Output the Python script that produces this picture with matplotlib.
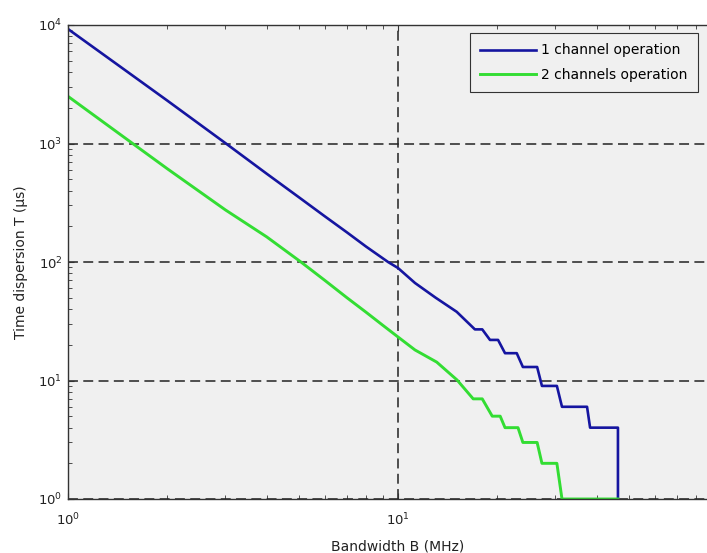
import matplotlib
matplotlib.use("Agg")
import matplotlib.pyplot as plt
from matplotlib.ticker import LogLocator, NullFormatter

# Bandwidth B (MHz) and time dispersion T (us)
b_one = [1, 1.5, 2, 3.01, 4, 5, 6, 7, 8, 9.33, 10, 11.26, 13, 15.06, 17.1,
         18.0, 19.0, 20.1, 21.1, 22.9, 23.9, 26.4, 27.3, 30.3, 31.4, 37.4, 38.2, 46.4, 46.4]
t_one = [9250, 4100, 2300, 1000, 556, 353, 243, 178, 135, 100, 89, 66.5, 50, 38, 27,
         27, 22, 22, 17, 17, 13, 13, 9, 9, 6, 6, 4, 4, 1]

b_two = [1, 1.57, 2, 3, 4, 5.08, 6, 7, 8, 9, 10, 11.26, 13.1, 15.1, 16.9,
         18.0, 19.3, 20.4, 21.1, 23.1, 23.9, 26.4, 27.3, 30.3, 31.4, 46.4]
t_two = [2500, 1000, 612, 275, 163, 100, 70, 50, 37.7, 29.2, 23.3, 18.1, 14.3, 10.1, 7,
         7, 5, 5, 4, 4, 3, 3, 2, 2, 1, 1]

labels = ["1 channel operation", "2 channels operation"]
x_ticks = [1, 10]
y_ticks = [1, 10, 100, 1000, 10000]

fig = plt.figure(figsize=(7.07, 5.53), dpi=100)
ax = fig.add_axes([68/707, 54/553, 660/707, 474/553])
ax.set_facecolor("#f0f0f0")

ax.plot(b_one, t_one, color="#1515a0", lw=1.9, label=labels[0])
ax.plot(b_two, t_two, color="#33dd33", lw=2.1, label=labels[1])

ax.set_xscale("log")
ax.set_yscale("log")
ax.set_xlim(1, 100)
ax.set_ylim(1, 1e4)
ax.set_xticks(x_ticks)
ax.set_yticks(y_ticks)
ax.xaxis.set_minor_locator(LogLocator(base=10, subs=range(2, 10)))
ax.yaxis.set_minor_locator(LogLocator(base=10, subs=range(2, 10)))
ax.xaxis.set_minor_formatter(NullFormatter())
ax.yaxis.set_minor_formatter(NullFormatter())

ax.grid(True, which="major", color="#222222", linestyle=(0, (6.5, 3.5)), lw=1.1)
ax.tick_params(which="both", direction="in", top=True, right=True, labelsize=9.5,
               colors="#333333", labelcolor="#222222")
ax.tick_params(which="major", length=4)
ax.tick_params(axis="x", which="major", pad=9)
ax.tick_params(axis="y", which="major", pad=4)
ax.tick_params(which="minor", length=3)
for s in ax.spines.values():
    s.set_color("#333333")
    s.set_linewidth(1.0)

ax.set_xlabel("Bandwidth B (MHz)", fontsize=10, color="#222222", labelpad=8)
ax.set_ylabel("Time dispersion T (µs)", fontsize=10, color="#222222", labelpad=7)

leg = ax.legend(loc="upper left", bbox_to_anchor=((470-68)/660, (499-33)/474),
                borderaxespad=0, fontsize=10, frameon=True, fancybox=False,
                handlelength=4.0, borderpad=0.75, labelspacing=0.75,
                handletextpad=0.35)
leg.get_frame().set_edgecolor("#333333")
leg.get_frame().set_facecolor("#f0f0f0")
leg.get_frame().set_linewidth(0.8)
leg.get_frame().set_alpha(1)

fig.savefig("out.png", dpi=100)
